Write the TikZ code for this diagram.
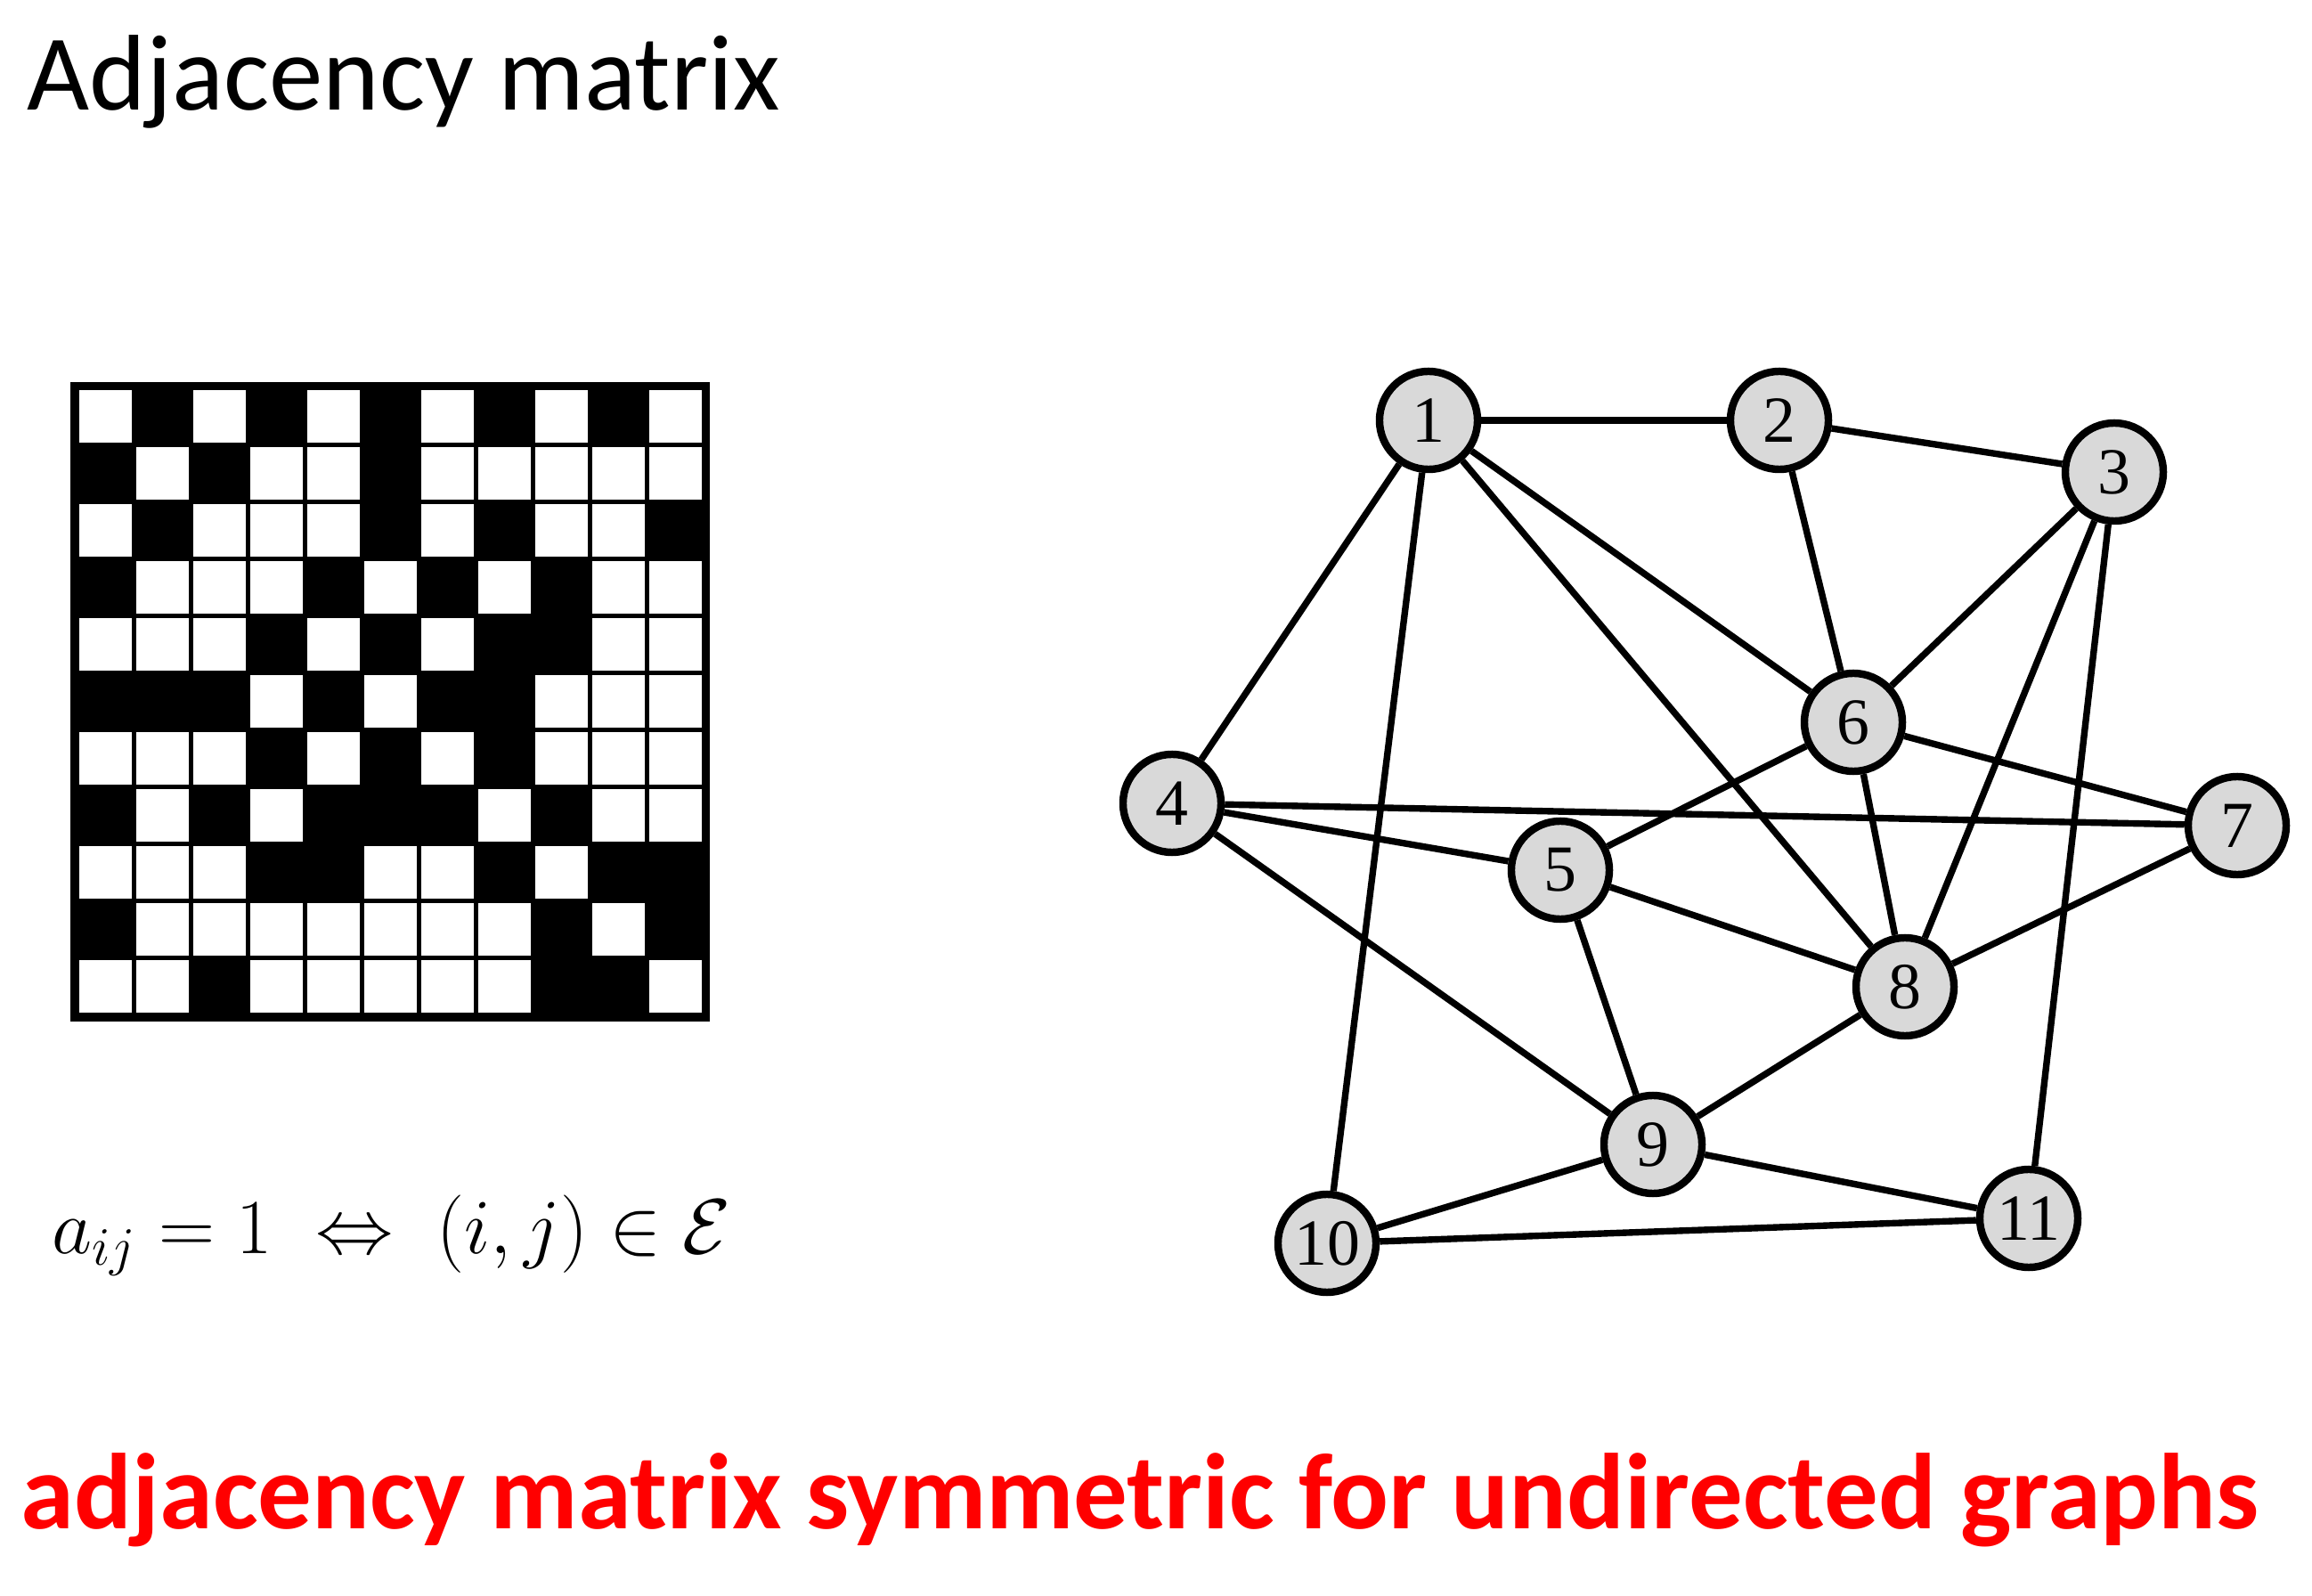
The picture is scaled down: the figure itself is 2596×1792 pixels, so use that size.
\documentclass[tikz,border=0pt]{standalone}
\usepackage{amsmath}
\usepackage{amssymb}
\usepackage{fontspec}
\usepackage{tikz}
\newfontfamily\slidefont{Carlito}
\newfontfamily\digitfont{Liberation Serif}

\definecolor{vertexgray}{RGB}{217,217,217}
\definecolor{slidered}{RGB}{255,0,0}

\tikzset{
	vertex/.style={circle, draw=black, line width=2.4pt, fill=vertexgray, minimum size=1.1cm, inner sep=0pt, font=\digitfont\fontsize{21pt}{25pt}\selectfont},
	link/.style={line width=2.1pt},
	label/.style={anchor=base west, inner sep=0pt},
}

\begin{document}
\begin{tikzpicture}[x=0.01cm, y=-0.01cm]
	\useasboundingbox (0,0) rectangle (2596,1792);
	% title and statement
	\node[label, font=\slidefont\fontsize{34.4pt}{40pt}\selectfont] (title) at (30,124) {Adjacency matrix};
	\node[label, font=\slidefont\bfseries\fontsize{34.4pt}{40pt}\selectfont, text=slidered] (claim) at (23,1716) {adjacency matrix symmetric for undirected graphs};
	\node[label, font=\fontsize{26pt}{30pt}\selectfont] (rule) at (58,1407) {$a_{ij} = 1 \;\Leftrightarrow\; (i,j) \in \mathcal{E}$};

	% adjacency matrix, 1 = black cell
	\fill[black] (79,429) rectangle (797,1147);
	\foreach \row [count=\i] in {
		{0,1,0,1,0,1,0,1,0,1,0},
		{1,0,1,0,0,1,0,0,0,0,0},
		{0,1,0,0,0,1,0,1,0,0,1},
		{1,0,0,0,1,0,1,0,1,0,0},
		{0,0,0,1,0,1,0,1,1,0,0},
		{1,1,1,0,1,0,1,1,0,0,0},
		{0,0,0,1,0,1,0,1,0,0,0},
		{1,0,1,0,1,1,1,0,1,0,0},
		{0,0,0,1,1,0,0,1,0,1,1},
		{1,0,0,0,0,0,0,0,1,0,1},
		{0,0,1,0,0,0,0,0,1,1,0}}
	{
		\foreach \b [count=\j] in \row {
			\ifnum\b=0
				\fill[white] ({86+64*(\j-1)+2.5},{436+64*(\i-1)+2.5}) rectangle ({86+64*\j-2.5},{436+64*\i-2.5});
			\fi
		}
	}

	% graph
	\node[vertex] (v1) at (1604,472) {1};
	\node[vertex] (v2) at (1998,472) {2};
	\node[vertex] (v3) at (2374,530) {3};
	\node[vertex] (v4) at (1316,902) {4};
	\node[vertex] (v5) at (1752,977) {5};
	\node[vertex] (v6) at (2081,811) {6};
	\node[vertex] (v7) at (2512,927) {7};
	\node[vertex] (v8) at (2139,1108) {8};
	\node[vertex] (v9) at (1856,1285) {9};
	\node[vertex] (v10) at (1490,1396) {10};
	\node[vertex] (v11) at (2278,1368) {11};

	\draw[link] (v1) -- (v2);
	\draw[link] (v1) -- (v4);
	\draw[link] (v1) -- (v6);
	\draw[link] (v1) -- (v8);
	\draw[link] (v1) -- (v10);
	\draw[link] (v2) -- (v3);
	\draw[link] (v2) -- (v6);
	\draw[link] (v3) -- (v6);
	\draw[link] (v3) -- (v8);
	\draw[link] (v3) -- (v11);
	\draw[link] (v4) -- (v5);
	\draw[link] (v4) -- (v7);
	\draw[link] (v4) -- (v9);
	\draw[link] (v5) -- (v6);
	\draw[link] (v5) -- (v8);
	\draw[link] (v5) -- (v9);
	\draw[link] (v6) -- (v7);
	\draw[link] (v6) -- (v8);
	\draw[link] (v7) -- (v8);
	\draw[link] (v8) -- (v9);
	\draw[link] (v9) -- (v10);
	\draw[link] (v9) -- (v11);
	\draw[link] (v10) -- (v11);
\end{tikzpicture}
\end{document}
